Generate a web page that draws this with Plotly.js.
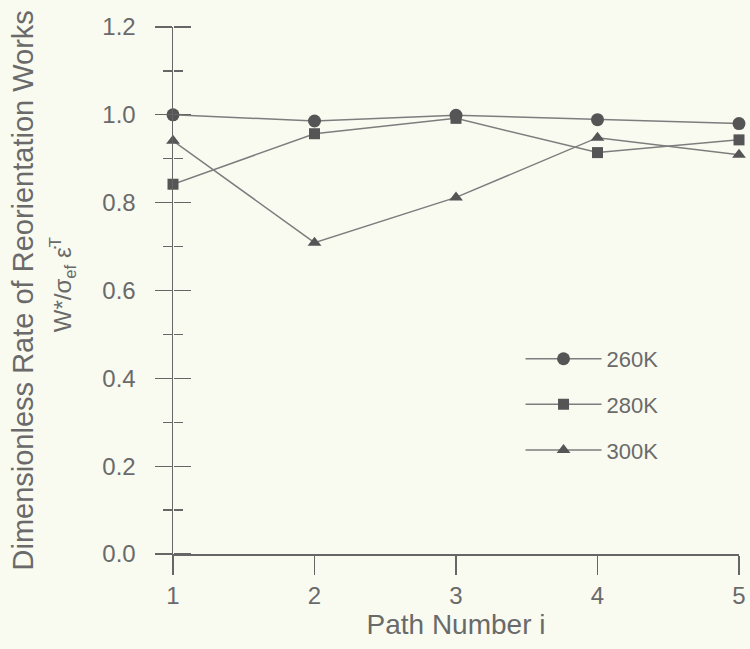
<!DOCTYPE html>
<html>
<head>
<meta charset="utf-8">
<script src="https://cdn.plot.ly/plotly-3.0.1.min.js"></script>
<style>html,body{margin:0;padding:0;background:#f9fbf1;}#chart{width:750px;height:649px;}</style>
</head>
<body>
<div id="chart"></div>
<script>
// Data
const pathNumber = [1, 2, 3, 4, 5];
const seriesNames = ['260K', '280K', '300K'];
const rate260K = [1.000, 0.986, 0.999, 0.989, 0.980];
const rate280K = [0.842, 0.957, 0.992, 0.914, 0.943];
const rate300K = [0.941, 0.709, 0.812, 0.948, 0.909];
const yTickVals = [0, 0.2, 0.4, 0.6, 0.8, 1.0, 1.2];
const xTickVals = [1, 2, 3, 4, 5];

const textColor = '#6a6a6a';
const lineColor = '#7d7d7d';
const markerColor = '#555555';
const axisColor = '#666666';
const fontFam = '"Liberation Sans", Arial, sans-serif';

function series(name, y, symbol, size) {
  return {
    type: 'scatter', mode: 'lines+markers', name: name,
    x: pathNumber, y: y, legendgroup: name,
    line: {color: lineColor, width: 1.5},
    marker: {symbol: symbol, size: size, color: markerColor},
    cliponaxis: false
  };
}

const data = [
  // invisible companion trace on a twin subplot whose y axis carries the inner tick halves
  {type: 'scatter', mode: 'markers', x: pathNumber, y: rate260K, xaxis: 'x2', yaxis: 'y2',
   marker: {opacity: 0, size: 1}, showlegend: false, hoverinfo: 'skip'},
  series(seriesNames[0], rate260K, 'circle', 13),
  series(seriesNames[1], rate280K, 'square', 11),
  series(seriesNames[2], rate300K, 'triangle-up', 12)
];

const layout = {
  width: 750, height: 649,
  margin: {l: 173, r: 10.5, t: 27, b: 95},
  paper_bgcolor: '#f9fbf1', plot_bgcolor: 'rgba(0,0,0,0)',
  font: {family: fontFam, color: textColor, size: 24},
  showlegend: true,
  legend: {
    x: 0.614, y: 0.41, xanchor: 'left', yanchor: 'top',
    bgcolor: 'rgba(0,0,0,0)', font: {size: 22, color: textColor},
    itemwidth: 76, tracegroupgap: 14
  },
  xaxis: {
    domain: [0, 1], anchor: 'y',
    range: [1, 5], tickmode: 'array', tickvals: xTickVals,
    ticks: 'outside', ticklen: 19, tickwidth: 1.3, tickcolor: axisColor,
    showline: true, linecolor: axisColor, linewidth: 1.5,
    showgrid: false, zeroline: false,
    tickfont: {size: 24, color: textColor},
    ticklabelstandoff: 1,
    title: {text: 'Path Number i', font: {size: 28, color: textColor}, standoff: 4}
  },
  yaxis: {
    domain: [0, 1], anchor: 'x',
    range: [0, 1.2], tickmode: 'array', tickvals: yTickVals, tickformat: '.1f',
    ticks: 'outside', ticklen: 17, tickwidth: 1.3, tickcolor: axisColor,
    minor: {dtick: 0.1, ticks: 'outside', ticklen: 9, tickwidth: 1.3, tickcolor: axisColor},
    showline: true, linecolor: axisColor, linewidth: 1.5,
    showgrid: false, zeroline: false,
    tickfont: {size: 24, color: textColor},
    ticklabelstandoff: 14
  },
  xaxis2: {
    domain: [0, 1], anchor: 'y2', range: [1, 5],
    showticklabels: false, ticks: '', showline: false, showgrid: false, zeroline: false
  },
  yaxis2: {
    domain: [0, 1], anchor: 'free', position: 0, side: 'right', range: [0, 1.2],
    tickmode: 'array', tickvals: yTickVals,
    ticks: 'outside', ticklen: 17, tickwidth: 1.3, tickcolor: axisColor,
    minor: {dtick: 0.1, ticks: 'outside', ticklen: 9, tickwidth: 1.3, tickcolor: axisColor},
    showticklabels: false, showline: false, showgrid: false, zeroline: false
  },
  annotations: [
    {xref: 'paper', yref: 'paper', x: 0, y: 0.5, xshift: -151, textangle: -90,
     xanchor: 'center', yanchor: 'middle', showarrow: false,
     text: 'Dimensionless Rate of Reorientation Works',
     font: {size: 29, color: textColor}},
    {xref: 'paper', yref: 'paper', x: 0, y: 0.51, xshift: -110, textangle: -90,
     xanchor: 'center', yanchor: 'middle', showarrow: false,
     text: 'W*/σ<sub>ef</sub> ε&#775;<sup>T</sup>',
     font: {size: 24, color: textColor}}
  ]
};

Plotly.newPlot('chart', data, layout, {displayModeBar: false, staticPlot: true});
</script>
</body>
</html>
